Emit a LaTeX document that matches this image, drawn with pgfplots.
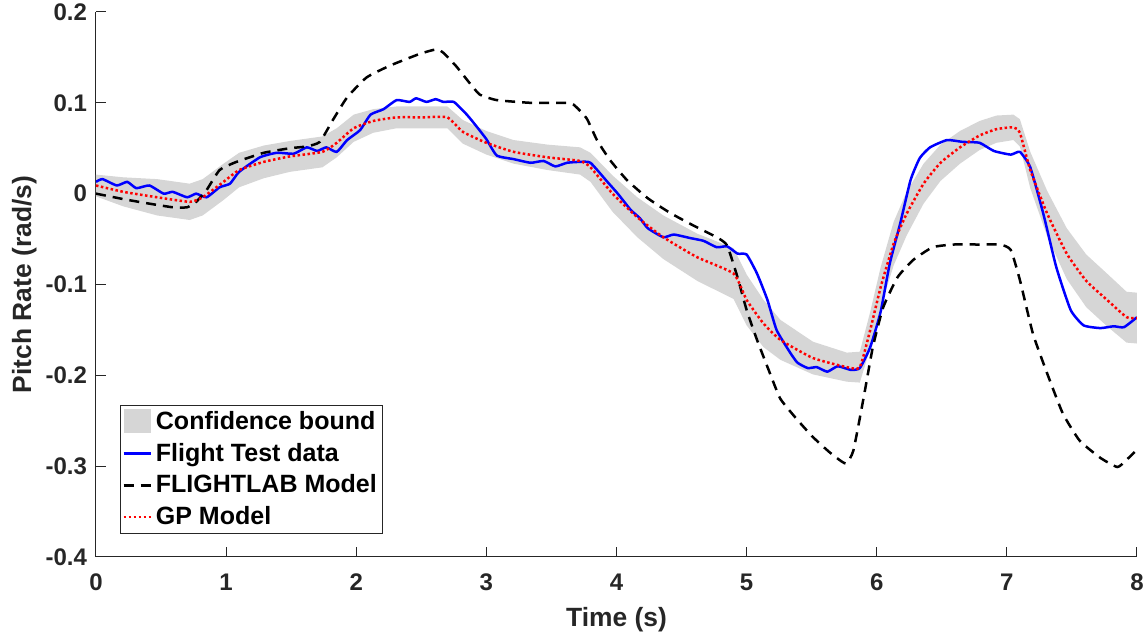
\documentclass[border=0pt]{standalone}
\usepackage{fontspec}
\setmainfont{Liberation Sans}
\usepackage{pgfplots}
\pgfplotsset{compat=1.18}
\definecolor{bandgray}{RGB}{214,214,214}
\definecolor{axgray}{RGB}{38,38,38}
\pgfplotsset{
  shortline/.style={legend image code/.code={\draw[##1] (0pt,0pt) -- (13.5pt,0pt);}},
  bandpatch/.style={legend image code/.code={\fill[bandgray] (0pt,-5.5pt) rectangle (13.5pt,6.5pt);}},
}
\begin{document}
\begin{tikzpicture}
\path[use as bounding box] (-48pt,-42pt) rectangle (526pt,278.5pt);
\begin{axis}[
  at={(0,0)}, anchor=south west,
  scale only axis, width=520.5pt, height=272.5pt,
  xmin=0, xmax=8, ymin=-0.4, ymax=0.2,
  axis x line=bottom, axis y line=left,
  axis line style={-, axgray, line width=0.5pt},
  tick style={axgray, line width=0.5pt},
  tick align=inside, major tick length=5pt,
  xtick={0,1,2,3,4,5,6,7,8},
  xticklabels={0,1,2,3,4,5,6,7,8},
  ytick={-0.4,-0.3,-0.2,-0.1,0,0.1,0.2},
  yticklabels={-0.4,-0.3,-0.2,-0.1,0,0.1,0.2},
  ticklabel style={font=\fontsize{12}{14}\selectfont\bfseries, text=axgray},
  xticklabel style={yshift=-5pt},
  yticklabel style={xshift=-1pt},
  xlabel={Time (s)},
  ylabel={Pitch Rate (rad/s)},
  label style={font=\fontsize{13.2}{15}\selectfont\bfseries, text=axgray},
  xlabel style={at={(axis description cs:0.5,0)}, anchor=north, inner sep=0pt, yshift=-25pt},
  ylabel style={at={([xshift=-29.5pt]axis description cs:0,0.5)}, anchor=south, rotate=0, inner sep=0pt},
  legend style={at={(axis description cs:0.023,0.042)}, anchor=south west,
    font=\fontsize{12.5}{14}\selectfont\bfseries, draw=axgray, line width=0.5pt,
    inner sep=1pt, row sep=1.3pt, fill=white},
  legend cell align=left,
]
\addplot[fill=bandgray, draw=none, area legend, bandpatch]
  coordinates {
  (0,0.021) (0.21,0.018) (0.47,0.016) (0.72,0.011) (0.82,0.016) (0.98,0.033)
  (1.10,0.045) (1.29,0.053) (1.49,0.058) (1.74,0.063) (1.85,0.072) (1.98,0.087)
  (2.13,0.093) (2.31,0.096) (2.51,0.096) (2.70,0.096) (2.82,0.081) (3.00,0.069)
  (3.21,0.059) (3.47,0.054) (3.72,0.051) (3.80,0.045) (3.97,0.020) (4.16,-0.004)
  (4.36,-0.024) (4.62,-0.044) (4.90,-0.060) (5.00,-0.089) (5.13,-0.117) (5.26,-0.139)
  (5.51,-0.163) (5.77,-0.175) (5.87,-0.174) (5.95,-0.130) (6.03,-0.081) (6.13,-0.031)
  (6.23,0.002) (6.36,0.033) (6.49,0.054) (6.64,0.069) (6.79,0.080) (6.92,0.086)
  (7.05,0.087) (7.10,0.082) (7.18,0.046) (7.31,0.003) (7.46,-0.038) (7.61,-0.067)
  (7.77,-0.088) (7.92,-0.108) (8.00,-0.109)
  (8.00,-0.165) (7.92,-0.164) (7.77,-0.146) (7.61,-0.125) (7.46,-0.094) (7.31,-0.047)
  (7.18,0.006) (7.10,0.052) (7.05,0.059) (6.92,0.056) (6.79,0.048) (6.64,0.033)
  (6.49,0.014) (6.36,-0.011) (6.23,-0.046) (6.13,-0.079) (6.03,-0.125) (5.95,-0.170)
  (5.87,-0.208) (5.77,-0.207) (5.51,-0.199) (5.26,-0.183) (5.13,-0.169) (5.00,-0.145)
  (4.90,-0.116) (4.62,-0.096) (4.36,-0.072) (4.16,-0.048) (3.97,-0.020) (3.80,0.013)
  (3.72,0.021) (3.47,0.026) (3.21,0.033) (3.00,0.043) (2.82,0.055) (2.70,0.072)
  (2.51,0.072) (2.31,0.072) (2.13,0.067) (1.98,0.057) (1.85,0.040) (1.74,0.029)
  (1.49,0.024) (1.29,0.017) (1.10,0.007) (0.98,-0.007) (0.82,-0.024) (0.72,-0.029)
  (0.47,-0.024) (0.21,-0.014) (0,-0.003)
  } -- cycle;
\addlegendentry{Confidence bound}
\addplot[blue, line width=1.25pt, line join=round, smooth, tension=0.3, shortline]
  coordinates {
  (0,0.013) (0.05,0.016) (0.16,0.009) (0.24,0.013) (0.31,0.006) (0.41,0.009)
  (0.52,0.0) (0.59,0.002) (0.70,-0.004) (0.77,0.0) (0.85,-0.004) (0.95,0.007)
  (1.03,0.011) (1.10,0.024) (1.26,0.040) (1.39,0.045) (1.52,0.044) (1.62,0.051)
  (1.70,0.047) (1.77,0.051) (1.85,0.046) (1.93,0.059) (2.03,0.070) (2.11,0.087)
  (2.21,0.093) (2.31,0.103) (2.41,0.101) (2.46,0.105) (2.54,0.101) (2.61,0.104)
  (2.67,0.101) (2.75,0.101) (2.85,0.087) (2.93,0.073) (3.0,0.060) (3.08,0.042)
  (3.21,0.038) (3.34,0.034) (3.44,0.036) (3.53,0.030) (3.62,0.034) (3.72,0.035)
  (3.80,0.034) (3.93,0.013) (4.01,0.000) (4.11,-0.018) (4.18,-0.027) (4.24,-0.038)
  (4.36,-0.048) (4.44,-0.045) (4.57,-0.049) (4.67,-0.052) (4.77,-0.059) (4.85,-0.058)
  (4.93,-0.066) (5.00,-0.067) (5.08,-0.088) (5.16,-0.117) (5.23,-0.150) (5.33,-0.174)
  (5.39,-0.186) (5.47,-0.192) (5.54,-0.191) (5.62,-0.196) (5.70,-0.190) (5.80,-0.194)
  (5.87,-0.192) (5.95,-0.169) (6.03,-0.130) (6.10,-0.077) (6.18,-0.033) (6.26,0.015)
  (6.33,0.039) (6.41,0.051) (6.54,0.059) (6.66,0.057) (6.79,0.056) (6.90,0.047)
  (7.03,0.043) (7.10,0.046) (7.18,0.029) (7.28,-0.022) (7.38,-0.081) (7.49,-0.128)
  (7.59,-0.145) (7.72,-0.148) (7.82,-0.146) (7.90,-0.147) (8.0,-0.136)
  };
\addlegendentry{Flight Test data}
\addplot[black, line width=1.25pt, dash pattern=on 5pt off 3.5pt, line join=round, smooth, tension=0.3, shortline]
  coordinates {
  (0,0.0) (0.21,-0.006) (0.41,-0.011) (0.59,-0.015) (0.70,-0.015) (0.77,-0.009)
  (0.85,0.004) (0.95,0.026) (1.08,0.035) (1.29,0.045) (1.49,0.050) (1.62,0.052)
  (1.72,0.057) (1.82,0.081) (1.93,0.106) (2.08,0.128) (2.26,0.141) (2.49,0.154)
  (2.62,0.159) (2.67,0.155) (2.77,0.140) (2.87,0.122) (2.95,0.109) (3.08,0.103)
  (3.34,0.100) (3.59,0.100) (3.67,0.098) (3.77,0.083) (3.85,0.059) (3.95,0.037)
  (4.08,0.015) (4.24,-0.005) (4.41,-0.021) (4.59,-0.035) (4.77,-0.048) (4.85,-0.057)
  (4.93,-0.092) (5.00,-0.128) (5.08,-0.161) (5.18,-0.198) (5.26,-0.226) (5.39,-0.249)
  (5.51,-0.268) (5.64,-0.285) (5.76,-0.297) (5.82,-0.283) (5.90,-0.224) (5.97,-0.169)
  (6.05,-0.125) (6.16,-0.092) (6.28,-0.073) (6.43,-0.059) (6.59,-0.056) (6.79,-0.056)
  (6.95,-0.056) (7.03,-0.062) (7.10,-0.095) (7.20,-0.154) (7.31,-0.198) (7.43,-0.242)
  (7.56,-0.272) (7.72,-0.291) (7.85,-0.301) (7.92,-0.293) (8.0,-0.282)
  };
\addlegendentry{FLIGHTLAB Model}
\addplot[red, line width=1.25pt, dash pattern=on 1.25pt off 1.25pt, smooth, tension=0.3, shortline]
  coordinates {
  (0,0.009) (0.21,0.002) (0.47,-0.004) (0.72,-0.009) (0.82,-0.004) (0.98,0.013)
  (1.10,0.026) (1.29,0.035) (1.49,0.041) (1.74,0.046) (1.85,0.056) (1.98,0.072)
  (2.13,0.080) (2.31,0.084) (2.51,0.084) (2.70,0.084) (2.82,0.068) (3.00,0.056)
  (3.21,0.046) (3.47,0.040) (3.72,0.036) (3.80,0.029) (3.97,0.0) (4.16,-0.026)
  (4.36,-0.048) (4.62,-0.070) (4.90,-0.088) (5.00,-0.117) (5.13,-0.143) (5.26,-0.161)
  (5.51,-0.181) (5.77,-0.191) (5.87,-0.191) (5.95,-0.150) (6.03,-0.103) (6.13,-0.055)
  (6.23,-0.022) (6.36,0.011) (6.49,0.034) (6.64,0.051) (6.79,0.064) (6.92,0.071)
  (7.05,0.073) (7.10,0.067) (7.18,0.026) (7.31,-0.022) (7.46,-0.066) (7.61,-0.096)
  (7.77,-0.117) (7.92,-0.136) (8.00,-0.137)
  };
\addlegendentry{GP Model}
\end{axis}
\end{tikzpicture}
\end{document}
